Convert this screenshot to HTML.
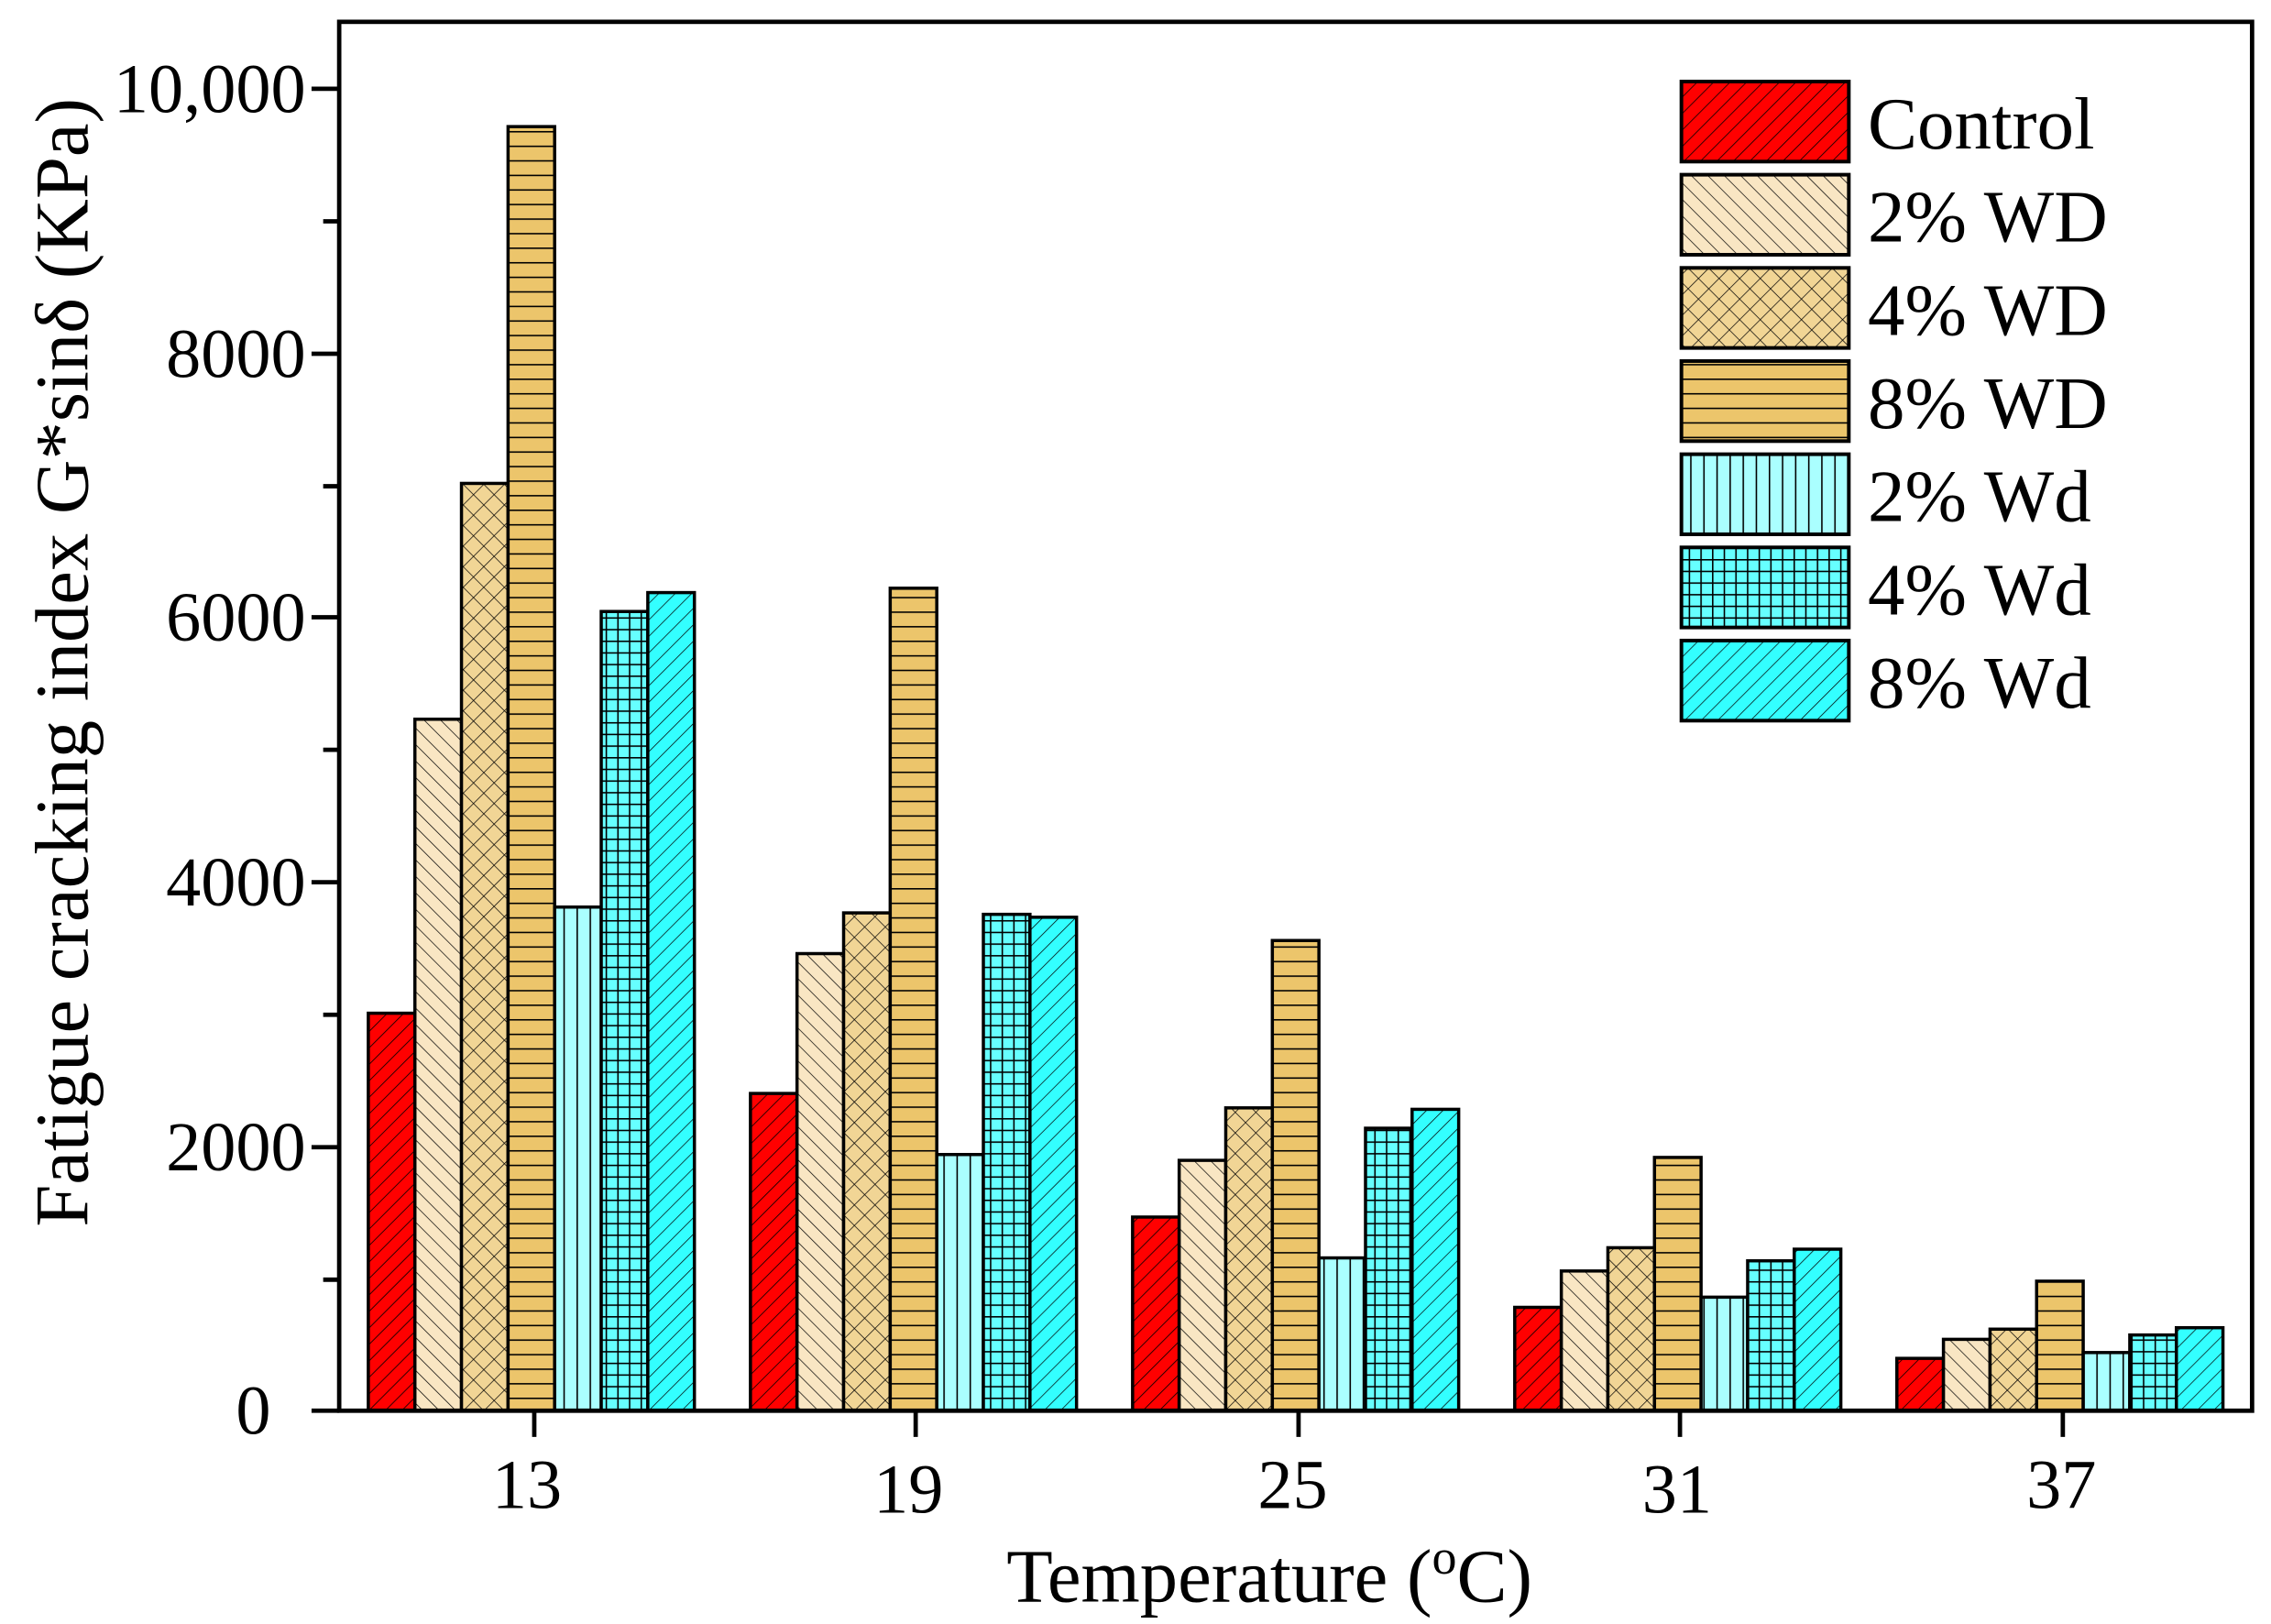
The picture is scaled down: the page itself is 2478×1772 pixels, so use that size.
<!DOCTYPE html>
<html><head><meta charset="utf-8"><style>html,body{margin:0;padding:0;background:#fff}svg{display:block}</style></head>
<body>
<svg width="2478" height="1772" viewBox="0 0 1560 1115.5" preserveAspectRatio="none" xmlns="http://www.w3.org/2000/svg" font-family="'Liberation Serif', serif">
<defs>
<pattern id="p0" patternUnits="userSpaceOnUse" width="8" height="8" patternTransform="rotate(45)"><rect width="8" height="8" fill="#ff0000"/><line x1="0" y1="0" x2="0" y2="8" stroke="#000" stroke-width="1"/></pattern>
<pattern id="p1" patternUnits="userSpaceOnUse" width="8" height="8" patternTransform="rotate(-45)"><rect width="8" height="8" fill="#f9e6c3"/><line x1="0" y1="0" x2="0" y2="8" stroke="#000" stroke-width="0.9"/></pattern>
<pattern id="p2" patternUnits="userSpaceOnUse" width="10" height="10" patternTransform="rotate(45)"><rect width="10" height="10" fill="#f1d595"/><line x1="0" y1="0" x2="0" y2="10" stroke="#000" stroke-width="0.9"/><line x1="0" y1="0" x2="10" y2="0" stroke="#000" stroke-width="0.9"/></pattern>
<pattern id="p3" patternUnits="userSpaceOnUse" width="10" height="10"><rect width="10" height="10" fill="#ecc56b"/><line x1="0" y1="0.5" x2="10" y2="0.5" stroke="#000" stroke-width="1"/></pattern>
<pattern id="p4" patternUnits="userSpaceOnUse" width="9" height="9"><rect width="9" height="9" fill="#aaffff"/><line x1="0.5" y1="0" x2="0.5" y2="9" stroke="#000" stroke-width="1"/></pattern>
<pattern id="p5" patternUnits="userSpaceOnUse" width="8" height="8"><rect width="8" height="8" fill="#66ffff"/><line x1="0.5" y1="0" x2="0.5" y2="8" stroke="#000" stroke-width="1"/><line x1="0" y1="0.5" x2="8" y2="0.5" stroke="#000" stroke-width="1"/></pattern>
<pattern id="p6" patternUnits="userSpaceOnUse" width="8" height="8" patternTransform="rotate(45)"><rect width="8" height="8" fill="#33ffff"/><line x1="0" y1="0" x2="0" y2="8" stroke="#000" stroke-width="0.9"/></pattern>
</defs>
<rect width="1560" height="1116" fill="#fff"/>
<g id="bars" stroke="#000" stroke-width="2.2"></g>
<rect x="233" y="15" width="1314" height="954" fill="none" stroke="#000" stroke-width="3"/>
<g stroke="#000" stroke-width="3">
<line x1="214" y1="61" x2="233" y2="61"/><line x1="214" y1="243" x2="233" y2="243"/><line x1="214" y1="424" x2="233" y2="424"/><line x1="214" y1="606" x2="233" y2="606"/><line x1="214" y1="788" x2="233" y2="788"/><line x1="214" y1="969" x2="233" y2="969"/>
<line x1="222" y1="152" x2="233" y2="152"/><line x1="222" y1="334" x2="233" y2="334"/><line x1="222" y1="515" x2="233" y2="515"/><line x1="222" y1="697" x2="233" y2="697"/><line x1="222" y1="879" x2="233" y2="879"/>
<line x1="367" y1="969" x2="367" y2="987"/><line x1="629" y1="969" x2="629" y2="987"/><line x1="892" y1="969" x2="892" y2="987"/><line x1="1154" y1="969" x2="1154" y2="987"/><line x1="1417" y1="969" x2="1417" y2="987"/>
</g>
<g font-size="48" text-anchor="end" fill="#000">
<text x="210" y="77">10,000</text><text x="210" y="259">8000</text><text x="210" y="440">6000</text><text x="210" y="622">4000</text><text x="210" y="804">2000</text><text x="186" y="985">0</text>
</g>
<g font-size="48" text-anchor="middle" fill="#000">
<text x="362" y="1036">13</text><text x="624" y="1039">19</text><text x="888" y="1036">25</text><text x="1152" y="1039">31</text><text x="1416" y="1036">37</text>
</g>
<g font-size="52" text-anchor="middle" fill="#000">
<text x="872" y="1100">Temperature (<tspan font-size="34" dy="-19">o</tspan><tspan dy="19">C)</tspan></text>
<text transform="translate(60,455) rotate(-90)">Fatigue cracking index G*sinδ (KPa)</text>
</g>
<g id="legend" stroke="#000" stroke-width="2.5"></g>
<g font-size="51" fill="#000" id="legtext"></g>
<script>
var vals=[[3007,5231,7015,9714,3810,6046,6189],[2400,3458,3766,6222,1938,3755,3733],[1465,1894,2291,3557,1156,2137,2280],[782,1057,1233,1916,859,1134,1222],[396,540,617,980,440,573,628]];
var ns="http://www.w3.org/2000/svg";var g=document.getElementById("bars");
for(var k=0;k<5;k++)for(var i=0;i<7;i++){var v=vals[k][i];var y=969-v*181.6/2000;var r=document.createElementNS(ns,"rect");r.setAttribute("x",253+k*262.5+i*32);r.setAttribute("y",y);r.setAttribute("width",32);r.setAttribute("height",969-y);r.setAttribute("fill","url(#p"+i+")");g.appendChild(r);}
var names=["Control","2% WD","4% WD","8% WD","2% Wd","4% Wd","8% Wd"];var lg=document.getElementById("legend"),lt=document.getElementById("legtext");
for(var i=0;i<7;i++){var y0=56+i*64;var r=document.createElementNS(ns,"rect");r.setAttribute("x",1155);r.setAttribute("y",y0);r.setAttribute("width",115);r.setAttribute("height",55);r.setAttribute("fill","url(#p"+i+")");lg.appendChild(r);var t=document.createElementNS(ns,"text");t.setAttribute("x",1283);t.setAttribute("y",y0+46);t.textContent=names[i];lt.appendChild(t);}
</script>
</svg>
</body></html>
